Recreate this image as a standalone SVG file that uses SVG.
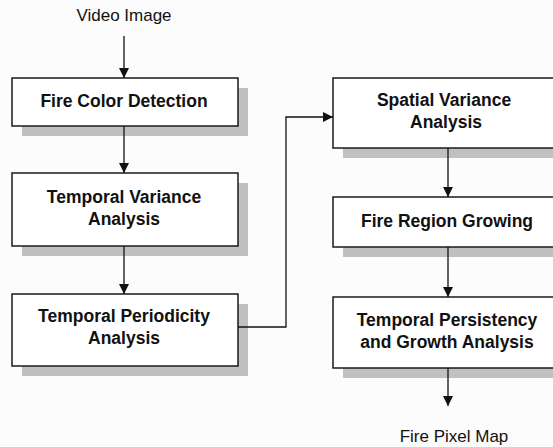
<svg xmlns="http://www.w3.org/2000/svg" width="553" height="447" viewBox="0 0 553 447">
<defs>
<style>
.bg{fill:#fcfcfc}
.sh{fill:#c0c0c0}
.box{fill:#ffffff;stroke:#1a1a1a;stroke-width:1.5}
.t{font-family:"Liberation Sans",Arial,sans-serif;font-weight:bold;font-size:17.5px;fill:#111;text-anchor:middle}
.l{font-family:"Liberation Sans",Arial,sans-serif;font-size:17px;fill:#111;text-anchor:middle}
.c{fill:none;stroke:#111;stroke-width:1.3}
</style>
<marker id="ah" viewBox="0 0 10 10" refX="10" refY="5" markerWidth="10" markerHeight="10" markerUnits="userSpaceOnUse" orient="auto">
<path d="M0,0 L10,5 L0,10 Z" fill="#111"/>
</marker>
</defs>
<rect class="bg" x="0" y="0" width="553" height="447"/>
<text class="l" x="124" y="21">Video Image</text>
<text class="l" x="454" y="442">Fire Pixel Map</text>

<g id="fire-color-detection">
<rect class="sh" x="22" y="88" width="226" height="48"/>
<rect class="box" x="12" y="78" width="226" height="48"/>
<text class="t" x="124" y="107">Fire Color Detection</text>
</g>
<g id="temporal-variance-analysis">
<rect class="sh" x="22" y="183" width="226" height="73"/>
<rect class="box" x="12" y="173" width="226" height="73"/>
<text class="t" x="124" y="203">Temporal Variance</text>
<text class="t" x="124" y="225">Analysis</text>
</g>
<g id="temporal-periodicity-analysis">
<rect class="sh" x="22" y="304" width="226" height="72"/>
<rect class="box" x="12" y="294" width="226" height="72"/>
<text class="t" x="124" y="322">Temporal Periodicity</text>
<text class="t" x="124" y="344">Analysis</text>
</g>
<g id="spatial-variance-analysis">
<rect class="sh" x="343" y="88" width="230" height="70"/>
<rect class="box" x="333" y="78" width="230" height="70"/>
<text class="t" x="444" y="106">Spatial Variance</text>
<text class="t" x="446" y="128">Analysis</text>
</g>
<g id="fire-region-growing">
<rect class="sh" x="343" y="207" width="230" height="50"/>
<rect class="box" x="333" y="197" width="230" height="50"/>
<text class="t" x="447" y="227">Fire Region Growing</text>
</g>
<g id="temporal-persistency-growth-analysis">
<rect class="sh" x="343" y="307" width="230" height="71"/>
<rect class="box" x="333" y="297" width="230" height="71"/>
<text class="t" x="447" y="326">Temporal Persistency</text>
<text class="t" x="447" y="348">and Growth Analysis</text>
</g>

<g id="connectors">
<path class="c" d="M124,36 V78" marker-end="url(#ah)"/>
<path class="c" d="M124,126 V173" marker-end="url(#ah)"/>
<path class="c" d="M124,246 V294" marker-end="url(#ah)"/>
<path class="c" d="M238,327 H286 V117 H333" marker-end="url(#ah)"/>
<path class="c" d="M448,148 V197" marker-end="url(#ah)"/>
<path class="c" d="M448,247 V297" marker-end="url(#ah)"/>
<path class="c" d="M448,368 V406" marker-end="url(#ah)"/>
</g>
</svg>
